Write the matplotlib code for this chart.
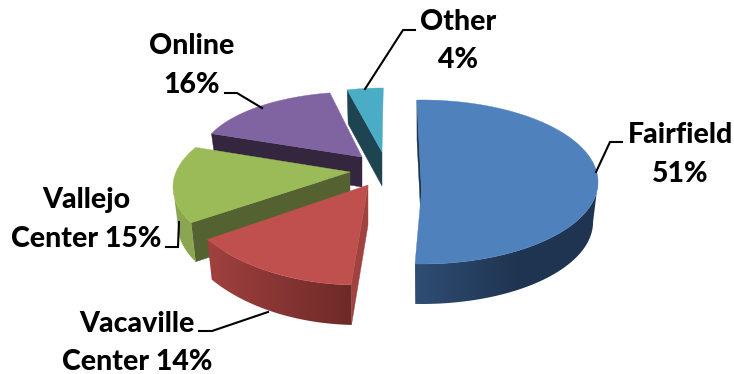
import numpy as np
import matplotlib
matplotlib.use("Agg")
import matplotlib.pyplot as plt
from matplotlib.patches import Polygon

plt.rcParams['font.family'] = ['Lato', 'DejaVu Sans']

names = ['Fairfield', 'Vacaville Center', 'Vallejo Center', 'Online', 'Other']
shares = [51, 14, 15, 16, 4]

# where the pie starts, in degrees clockwise from the back
first_angle = -1.5
squeeze = 0.972

# apex, ellipse centre, radii, depth and perspective turn of each exploded slice
apex = [(421.5, 191), (368, 185), (350, 172), (362, 157), (382, 152)]
centre = [(421.5, 182), (358, 169), (360, 187), (357, 159.5), (382, 154)]
radii = [(176.5, 82), (190, 116), (187, 83), (157.5, 67.6), (145, 66)]
depth = [40, 40, 39, 30, 34]
turn = [0, 0, 12, 6, 2]

top_colors = ['#4f81bd', '#c0504d', '#9bbb59', '#8064a2', '#4bacc6']
side_colors = ['#1f3450', '#a04340', '#546130', '#35263f', '#1d4450']
# wall shading from left to right
wall_colors = [('#2f4d73', '#1f3450'), ('#a0413f', '#6e2a28'), ('#8ba651', '#8ba651'),
               ('#35263f', '#35263f'), ('#1d4450', '#1d4450')]
wall_ramp_end = [520, 350, 200, 0, 0]
draw_order = [4, 3, 2, 1, 0]

# label text: (text, x, baseline y)
label_lines = [('Other', 458, 30), ('4%', 458, 68),
               ('Online', 192, 54), ('16%', 192, 93),
               ('Fairfield', 681, 143), ('51%', 680, 182),
               ('Vallejo', 86, 208), ('Center 15%', 86, 247),
               ('Vacaville', 137, 332), ('Center 14%', 137, 370)]
leaders = [[(365, 89), (403, 30), (415, 30)],
           [(262, 108), (237, 93), (225, 93)],
           [(596, 172), (610, 142), (622, 142)],
           [(179, 222), (178, 247), (166, 247)],
           [(268, 312), (212, 331), (199, 331)]]


def rim(i, angles):
    t = np.radians(angles)
    x = centre[i][0] + radii[i][0] * np.sin(t)
    y = centre[i][1] - radii[i][1] * np.cos(t)
    return np.column_stack([x, y])


def lower(i, pts):
    # bottom face sits lower and a little narrower
    pts = np.atleast_2d(pts).astype(float)
    out = pts.copy()
    out[:, 0] = apex[i][0] + squeeze * (pts[:, 0] - apex[i][0])
    out[:, 1] = pts[:, 1] + depth[i]
    return out


def draw_wall(ax, i, lo, hi):
    top = rim(i, np.linspace(lo, hi, 120))
    bot = lower(i, top)
    outline = np.vstack([top, bot[::-1]])
    x0, x1 = outline[:, 0].min(), outline[:, 0].max()
    y0, y1 = outline[:, 1].min(), outline[:, 1].max()

    # horizontal colour ramp clipped to the wall outline
    xs = np.linspace(x0, x1, 256)
    f = np.clip((xs - x0) / max(wall_ramp_end[i] - x0, 1), 0, 1)[:, None]
    c1 = np.array(matplotlib.colors.to_rgb(wall_colors[i][0]))
    c2 = np.array(matplotlib.colors.to_rgb(wall_colors[i][1]))
    ramp = (c1 + (c2 - c1) * f)[None, :, :]
    im = ax.imshow(ramp, extent=(x0, x1, y1, y0), aspect='auto', interpolation='bilinear', zorder=1)
    patch = Polygon(outline, closed=True, fc='none', ec='none', transform=ax.transData)
    ax.add_patch(patch)
    im.set_clip_path(patch)


def draw_slice(ax, i, a, b):
    # radial face on the starting side
    corner = rim(i, [a])[0]
    face = np.vstack([apex[i], corner, lower(i, corner), lower(i, apex[i])])
    ax.add_patch(Polygon(face, closed=True, fc=side_colors[i], ec=side_colors[i], lw=0.3, zorder=1))

    # curved outer wall, only the part that faces the viewer
    lo, hi = max(a, 90), min(b, 270)
    if hi > lo:
        draw_wall(ax, i, lo, hi)

    # top face
    arc = rim(i, np.linspace(a, b, 160))
    ax.add_patch(Polygon(np.vstack([apex[i], arc]), closed=True, fc=top_colors[i], ec=top_colors[i], lw=0.3, zorder=1))


def main():
    fig = plt.figure(figsize=(7.34, 3.74), dpi=100)
    ax = fig.add_axes([0, 0, 1, 1])

    ends = first_angle + np.cumsum(shares) * 3.6
    starts = ends - np.array(shares) * 3.6
    for i in draw_order:
        draw_slice(ax, i, starts[i] + turn[i], ends[i] + turn[i])

    ax.set_xlim(0, 734)
    ax.set_ylim(374, 0)
    ax.axis('off')

    for line in leaders:
        xs, ys = zip(*line)
        ax.plot(xs, ys, color='black', lw=1.5, solid_joinstyle='miter', zorder=2)

    for text, x, y in label_lines:
        ax.text(x, y, text, ha='center', va='baseline', fontsize=20.5, fontweight='black', color='black', zorder=3)

    fig.savefig('out.png', dpi=100)


if __name__ == "__main__":
    main()
